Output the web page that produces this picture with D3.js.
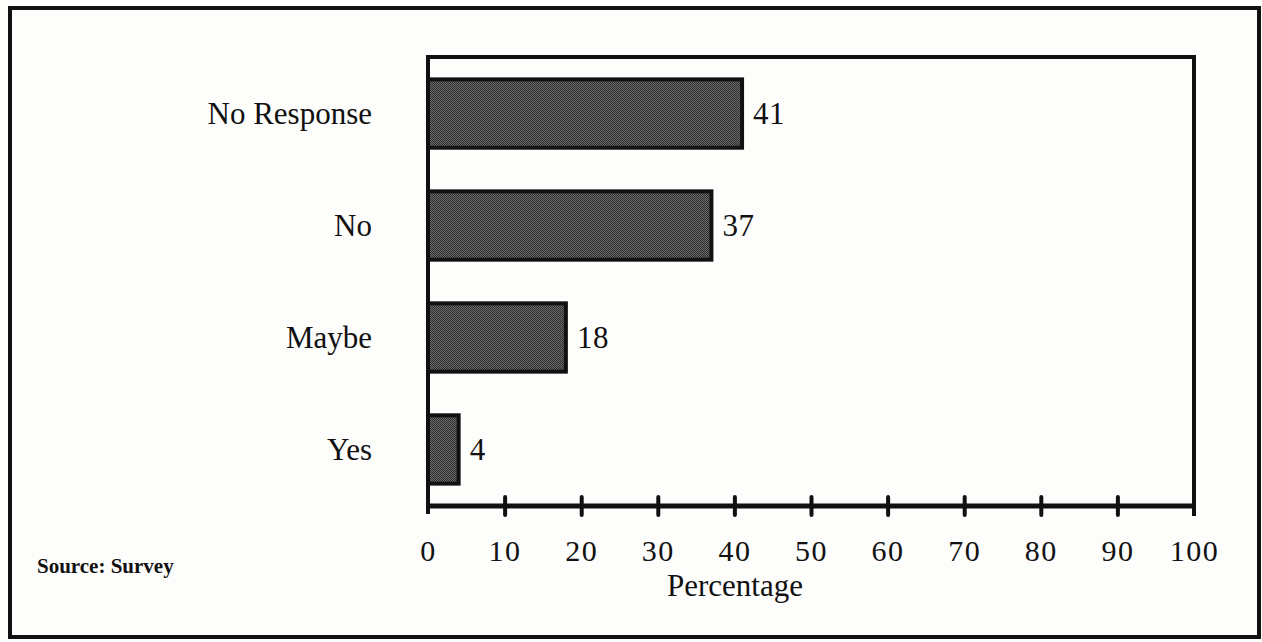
<!DOCTYPE html>
<html>
<head>
<meta charset="utf-8">
<script src="https://cdn.jsdelivr.net/npm/d3@7"></script>
<style>
  html, body { margin: 0; padding: 0; background: #fdfdfc; }
  svg { display: block; }
  text { font-family: "Liberation Serif", "Times New Roman", serif; fill: #111; }
</style>
</head>
<body>
<svg id="chart" width="1262" height="642"></svg>
<script>
// Survey responses (percent)
const categories = ["No Response", "No", "Maybe", "Yes"];
const values = [41, 37, 18, 4];
const tickValues = [0, 10, 20, 30, 40, 50, 60, 70, 80, 90, 100];
const axisTitle = "Percentage";
const sourceNote = "Source: Survey";

const svg = d3.select("#chart");
const plot = { left: 428, right: 1194, top: 57, bottom: 506 };

// stippled fill for the bars
const defs = svg.append("defs");
const pat = defs.append("pattern")
  .attr("id", "stipple").attr("patternUnits", "userSpaceOnUse")
  .attr("width", 2).attr("height", 2);
pat.append("rect").attr("width", 2).attr("height", 2).attr("fill", "#6a6a6a");
pat.append("rect").attr("width", 1).attr("height", 1).attr("fill", "#2a2a2a");
pat.append("rect").attr("x", 1).attr("y", 1).attr("width", 1).attr("height", 1).attr("fill", "#333");

// outer frame
svg.append("rect")
  .attr("x", 10).attr("y", 8).attr("width", 1249).attr("height", 629)
  .attr("fill", "none").attr("stroke", "#111").attr("stroke-width", 4);

const x = d3.scaleLinear().domain([0, 100]).range([plot.left, plot.right]);
const y = d3.scaleBand().domain(categories).range([plot.top, plot.bottom]).paddingInner(0.39).paddingOuter(0.2);

// plot box: left, top, right edges
svg.append("path")
  .attr("d", `M${plot.left},${plot.bottom + 8} V${plot.top} H${plot.right} V${plot.bottom + 10}`)
  .attr("fill", "none").attr("stroke", "#111").attr("stroke-width", 4);

// bars
svg.append("g").selectAll("rect").data(categories).join("rect")
  .attr("x", x(0))
  .attr("y", d => y(d))
  .attr("width", (d, i) => x(values[i]) - x(0))
  .attr("height", y.bandwidth())
  .attr("fill", "url(#stipple)")
  .attr("stroke", "#111").attr("stroke-width", 4);

// value labels
svg.append("g").selectAll("text").data(categories).join("text")
  .attr("x", (d, i) => x(values[i]) + 11)
  .attr("y", d => y(d) + y.bandwidth() / 2)
  .attr("dy", "0.35em")
  .attr("font-size", 31)
  .attr("letter-spacing", 0.5)
  .text((d, i) => values[i]);

// category labels
svg.append("g").selectAll("text").data(categories).join("text")
  .attr("x", 372)
  .attr("y", d => y(d) + y.bandwidth() / 2)
  .attr("dy", "0.35em")
  .attr("text-anchor", "end")
  .attr("font-size", 31)
  .text(d => d);

// x axis
const xAxis = d3.axisBottom(x).tickValues(tickValues).tickSize(0).tickPadding(0);
const gx = svg.append("g").attr("transform", `translate(0,${plot.bottom})`).call(xAxis);
gx.select(".domain").remove();
gx.selectAll(".tick text").remove();
svg.append("line")
  .attr("x1", x(0)).attr("x2", x(100)).attr("y1", plot.bottom).attr("y2", plot.bottom)
  .attr("stroke", "#111").attr("stroke-width", 5);
gx.selectAll(".tick").filter(d => d > 0 && d < 100).append("line")
  .attr("y1", -9).attr("y2", 9)
  .attr("stroke", "#111").attr("stroke-width", 4).attr("stroke-linecap", "round");
gx.selectAll(".tick").append("text")
  .attr("y", 55)
  .attr("text-anchor", "middle")
  .attr("font-size", 30)
  .attr("letter-spacing", 1.5)
  .attr("fill", "#111")
  .attr("font-family", "Liberation Serif, serif")
  .text(d => d);

// axis title
svg.append("text")
  .attr("x", 735).attr("y", 596)
  .attr("text-anchor", "middle").attr("font-size", 31)
  .text(axisTitle);

// source note
svg.append("text")
  .attr("x", 37).attr("y", 573)
  .attr("font-size", 21).attr("font-weight", "bold")
  .text(sourceNote);
</script>
</body>
</html>
